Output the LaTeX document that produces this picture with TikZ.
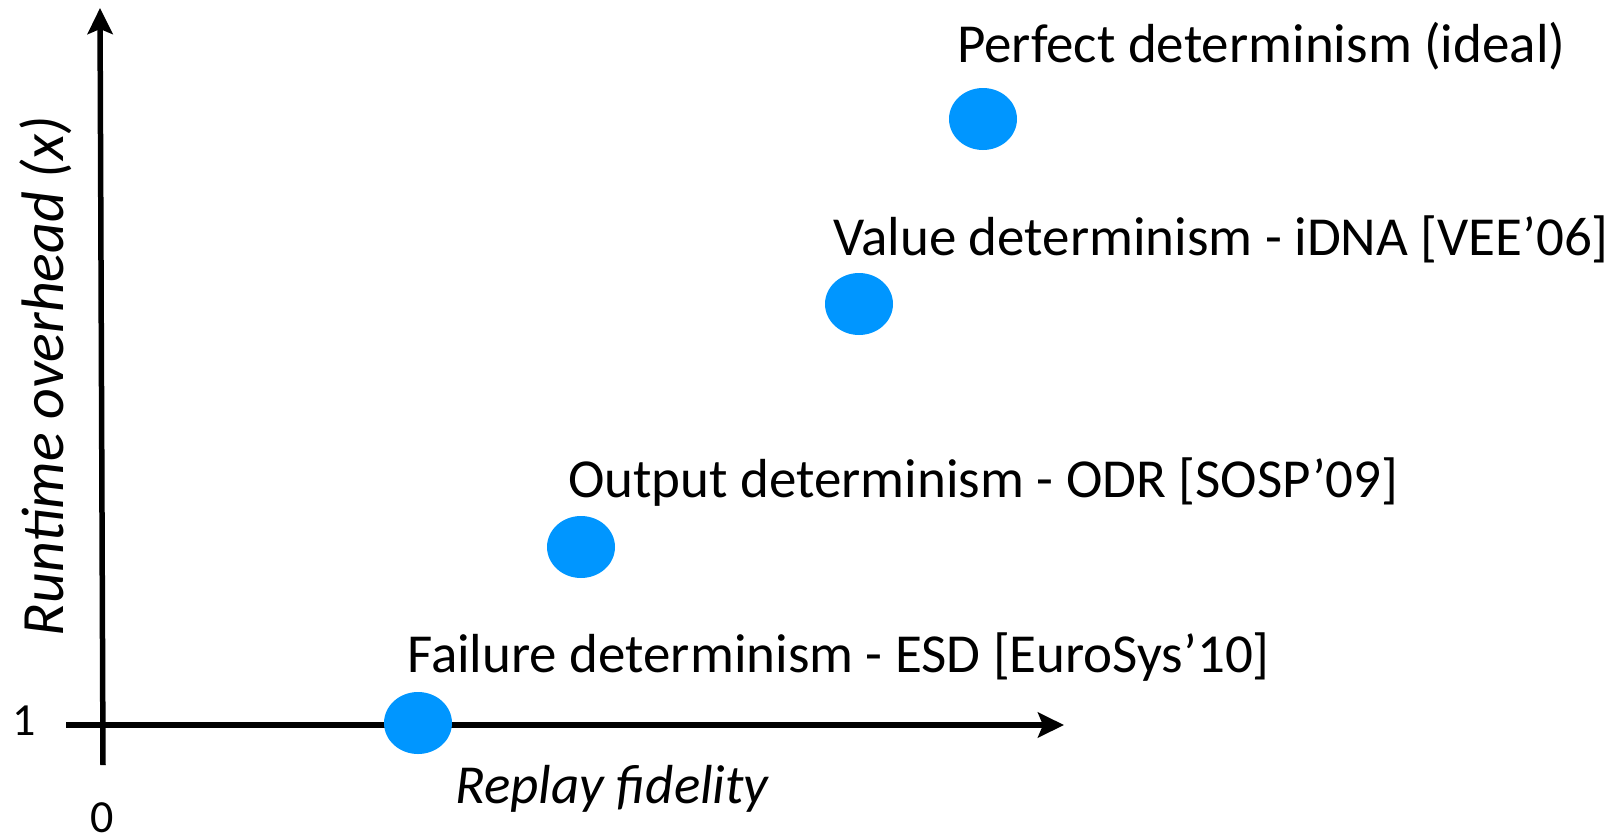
\documentclass[tikz,border=0pt]{standalone}
\usepackage{fontspec}
\setmainfont{Carlito}
\usetikzlibrary{arrows.meta,shapes.geometric}
\definecolor{dotblue}{RGB}{0,150,255}
\begin{document}
\begin{tikzpicture}[x=1pt,y=-1pt,
  axisline/.style={line width=5.5pt,-{Stealth[length=26pt,width=25pt,inset=5pt]}},
  dotnode/.style={ellipse,fill=dotblue,minimum width=68pt,minimum height=62pt,inner sep=0pt},
  lbl/.style={anchor=base west,inner sep=0pt,font=\fontsize{55}{66}\selectfont},
  axlbl/.style={inner sep=0pt,font=\fontsize{55}{66}\selectfont\itshape},
  numlbl/.style={anchor=base,inner sep=0pt,font=\fontsize{46}{55}\selectfont}]
\useasboundingbox (0,0) rectangle (1617,836);
\coordinate (ybot) at (103,765);
\coordinate (ytop) at (100,8);
\coordinate (xleft) at (66,725);
\coordinate (xright) at (1064,725);
\draw[axisline] (ybot) -- (ytop);
\draw[axisline] (xleft) -- (xright);
\node[dotnode] (p1) at (418,723) {};
\node[dotnode] (p2) at (581,547) {};
\node[dotnode] (p3) at (859,304) {};
\node[dotnode] (p4) at (983,119) {};
\node[lbl] (l1) at (407,672) {Failure determinism - ESD [EuroSys’10]};
\node[lbl] (l2) at (568,497) {Output determinism - ODR [SOSP’09]};
\node[lbl] (l3) at (833,255) {Value determinism - iDNA [VEE’06]};
\node[lbl] (l4) at (957,62) {Perfect determinism (ideal)};
\node[axlbl] (xl) at (612,789) {Replay fidelity};
\node[axlbl,rotate=90,font=\fontsize{60}{72}\selectfont\itshape] (yl) at (46,376) {Runtime overhead (x)};
\node[numlbl] (one) at (24,735) {1};
\node[numlbl] (zero) at (102,832) {0};
\end{tikzpicture}
\end{document}
